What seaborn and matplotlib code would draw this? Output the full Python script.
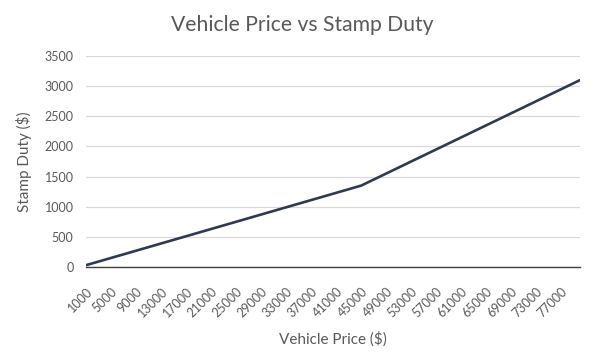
import matplotlib
matplotlib.use("Agg")
import matplotlib.pyplot as plt
import matplotlib.transforms as mtransforms
import seaborn as sns
import pandas as pd

prices = [1000, 2000, 3000, 4000, 5000, 6000, 7000, 8000, 9000, 10000,
          11000, 12000, 13000, 14000, 15000, 16000, 17000, 18000, 19000, 20000,
          21000, 22000, 23000, 24000, 25000, 26000, 27000, 28000, 29000, 30000,
          31000, 32000, 33000, 34000, 35000, 36000, 37000, 38000, 39000, 40000,
          41000, 42000, 43000, 44000, 45000, 46000, 47000, 48000, 49000, 50000,
          51000, 52000, 53000, 54000, 55000, 56000, 57000, 58000, 59000, 60000,
          61000, 62000, 63000, 64000, 65000, 66000, 67000, 68000, 69000, 70000,
          71000, 72000, 73000, 74000, 75000, 76000, 77000, 78000, 79000, 80000]
duty = [30, 60, 90, 120, 150, 180, 210, 240, 270, 300,
        330, 360, 390, 420, 450, 480, 510, 540, 570, 600,
        630, 660, 690, 720, 750, 780, 810, 840, 870, 900,
        930, 960, 990, 1020, 1050, 1080, 1110, 1140, 1170, 1200,
        1230, 1260, 1290, 1320, 1350, 1400, 1450, 1500, 1550, 1600,
        1650, 1700, 1750, 1800, 1850, 1900, 1950, 2000, 2050, 2100,
        2150, 2200, 2250, 2300, 2350, 2400, 2450, 2500, 2550, 2600,
        2650, 2700, 2750, 2800, 2850, 2900, 2950, 3000, 3050, 3100]
y_ticks = [0, 500, 1000, 1500, 2000, 2500, 3000, 3500]

df = pd.DataFrame({"price": prices, "duty": duty})

sns.set_theme(style="white")
plt.rcParams["font.family"] = ["Lato", "DejaVu Sans"]

text_c = "#595959"
fig = plt.figure(figsize=(6.04, 3.54), dpi=100)
ax = fig.add_axes([86/604, 1-267/354, (580-86)/604, (267-56)/354])

sns.lineplot(data=df, x="price", y="duty", ax=ax, color="#2E3A52", linewidth=1.9)

ax.set_xlim(prices[0], prices[-1])
ax.set_ylim(y_ticks[0], y_ticks[-1])
ax.set_yticks(y_ticks)
ax.set_yticklabels([str(v) for v in y_ticks])
ax.set_xticks(prices[::4])
ax.set_xticklabels([str(v) for v in prices[::4]], rotation=45, ha="right",
                   rotation_mode="anchor")
off = mtransforms.ScaledTranslation(-3/100, 0, fig.dpi_scale_trans)
for lbl in ax.get_xticklabels():
    lbl.set_transform(lbl.get_transform() + off)
ax.yaxis.grid(True, color="#D9D9D9", linewidth=0.9)
ax.set_axisbelow(True)
for s in ["top", "right", "left"]:
    ax.spines[s].set_visible(False)
ax.spines["bottom"].set_color("#404040")
ax.spines["bottom"].set_linewidth(1.0)
ax.tick_params(axis="y", length=0, pad=9, labelsize=9, labelcolor=text_c)
ax.tick_params(axis="x", length=0, pad=13, labelsize=9, labelcolor=text_c)

ax.set_xlabel("Vehicle Price ($)", fontsize=11, color=text_c, labelpad=9)
ax.set_ylabel("Stamp Duty ($)", fontsize=11, color=text_c, labelpad=9)
fig.text(302/604, 1-25/354, "Vehicle Price vs Stamp Duty", ha="center",
         va="center", fontsize=15.2, color=text_c)

fig.savefig("out.png", dpi=100)
